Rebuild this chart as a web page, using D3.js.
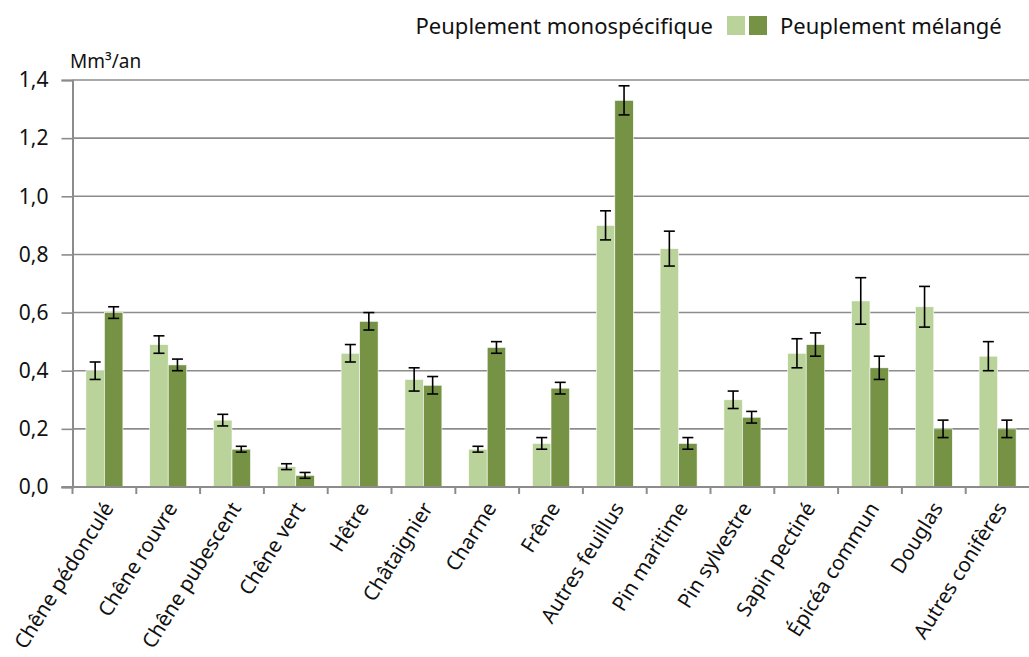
<!DOCTYPE html>
<html>
<head>
<meta charset="utf-8">
<script src="https://cdn.jsdelivr.net/npm/d3@7"></script>
<style>
html,body{margin:0;padding:0;background:#fff;}
svg{display:block;font-family:"Noto Sans",sans-serif;}
</style>
</head>
<body>
<svg id="chart" width="1029" height="657"></svg>
<script>
const categories = ["Chêne pédonculé","Chêne rouvre","Chêne pubescent","Chêne vert","Hêtre","Châtaignier","Charme","Frêne","Autres feuillus","Pin maritime","Pin sylvestre","Sapin pectiné","Épicéa commun","Douglas","Autres conifères"];
const seriesNames = ["Peuplement monospécifique","Peuplement mélangé"];
const monoValues = [0.40,0.49,0.23,0.07,0.46,0.37,0.13,0.15,0.90,0.82,0.30,0.46,0.64,0.62,0.45];
const monoErrors = [0.03,0.03,0.02,0.01,0.03,0.04,0.01,0.02,0.05,0.06,0.03,0.05,0.08,0.07,0.05];
const mixValues  = [0.60,0.42,0.13,0.04,0.57,0.35,0.48,0.34,1.33,0.15,0.24,0.49,0.41,0.20,0.20];
const mixErrors  = [0.02,0.02,0.01,0.01,0.03,0.03,0.02,0.02,0.05,0.02,0.02,0.04,0.04,0.03,0.03];
const yTicks = [0,0.2,0.4,0.6,0.8,1.0,1.2,1.4];
const unitLabel = "Mm³/an";

(function(){
const colors = ["#bad39a","#769345"];
const svg = d3.select("#chart");
const pLeft = 72.5, pRight = 1029.5, pTop = 80, pBottom = 487;

const y = d3.scaleLinear().domain([0,1.4]).range([pBottom, pTop]);
const x0 = d3.scaleBand().domain(categories).range([pLeft, pRight]).padding(0);
const barW = 18.5;
const x1 = d3.scaleBand().domain(seriesNames).range([x0.bandwidth()/2 - barW, x0.bandwidth()/2 + barW]);

const gridColor = "#8c8c8c";
svg.append("g").selectAll("line").data(yTicks.slice(1)).join("line")
  .attr("x1", pLeft).attr("x2", 1029).attr("y1", d=>y(d)).attr("y2", d=>y(d))
  .attr("stroke", gridColor).attr("stroke-width", 1.6);

const yAxis = d3.axisLeft(y).tickValues(yTicks).tickSize(11).tickPadding(13)
  .tickFormat(d => d3.format(".1f")(d).replace(".", ","));
const gy = svg.append("g").attr("transform", `translate(${pLeft},0)`).call(yAxis);
gy.select(".domain").attr("stroke", gridColor).attr("stroke-width", 2);
gy.selectAll(".tick line").attr("stroke", gridColor).attr("stroke-width", 1.6);
gy.selectAll(".tick text").attr("font-size", 21).attr("fill", "#111").attr("font-family", '"Noto Sans",sans-serif');

const data = categories.map((c,i)=>({c, vals:[
  {s:seriesNames[0], v:monoValues[i], e:monoErrors[i]},
  {s:seriesNames[1], v:mixValues[i], e:mixErrors[i]}
]}));
const groups = svg.append("g").selectAll("g").data(data).join("g")
  .attr("transform", d=>`translate(${x0(d.c)},0)`);
groups.selectAll("rect").data(d=>d.vals).join("rect")
  .attr("x", d=>x1(d.s)).attr("width", x1.bandwidth())
  .attr("y", d=>y(d.v)).attr("height", d=>y(0)-y(d.v))
  .attr("fill", (d,i)=>colors[i]).attr("stroke", "#fff").attr("stroke-width", 0.6);

const eb = groups.selectAll("g.err").data(d=>d.vals).join("g").attr("class","err")
  .attr("transform", d=>`translate(${x1(d.s)+x1.bandwidth()/2},0)`);
eb.append("line").attr("x1",0).attr("x2",0).attr("y1",d=>y(d.v+d.e)).attr("y2",d=>y(d.v-d.e))
  .attr("stroke","#000").attr("stroke-width",1.6);
eb.append("line").attr("x1",-5.5).attr("x2",5.5).attr("y1",d=>y(d.v+d.e)).attr("y2",d=>y(d.v+d.e))
  .attr("stroke","#000").attr("stroke-width",1.6);
eb.append("line").attr("x1",-5.5).attr("x2",5.5).attr("y1",d=>y(d.v-d.e)).attr("y2",d=>y(d.v-d.e))
  .attr("stroke","#000").attr("stroke-width",1.6);

svg.append("line").attr("x1",pLeft-11).attr("x2",1029).attr("y1",pBottom).attr("y2",pBottom)
  .attr("stroke",gridColor).attr("stroke-width",2);
svg.append("g").selectAll("line").data(categories).join("line")
  .attr("x1",d=>x0(d)).attr("x2",d=>x0(d)).attr("y1",pBottom).attr("y2",pBottom+7)
  .attr("stroke",gridColor).attr("stroke-width",2);
svg.append("g").selectAll("text").data(categories).join("text")
  .attr("transform", d=>`translate(${x0(d)+x0.bandwidth()/2+10},${pBottom+21}) rotate(-58)`)
  .attr("text-anchor","end").attr("font-size",20.5).attr("fill","#111")
  .text(d=>d);

svg.append("text").attr("x",70).attr("y",68).attr("font-size",19).attr("fill","#111").text(unitLabel);

const lg = svg.append("g");
lg.append("rect").attr("x",727).attr("y",16).attr("width",18).attr("height",19).attr("fill",colors[0]);
lg.append("rect").attr("x",749).attr("y",16).attr("width",18).attr("height",19).attr("fill",colors[1]);
lg.append("text").attr("x",713).attr("y",34).attr("text-anchor","end").attr("font-size",22).attr("fill","#111").text(seriesNames[0]);
lg.append("text").attr("x",780).attr("y",34).attr("font-size",22).attr("fill","#111").text(seriesNames[1]);
})();
</script>
</body>
</html>
